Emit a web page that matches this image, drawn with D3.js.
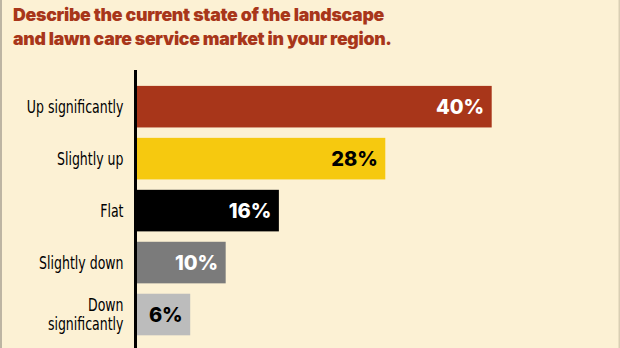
<!DOCTYPE html>
<html>
<head>
<meta charset="utf-8">
<script src="https://cdn.jsdelivr.net/npm/d3@7/dist/d3.min.js"></script>
<style>
  html, body { margin: 0; padding: 0; background: #fcf1d4; }
  svg { display: block; }
</style>
</head>
<body>
<svg id="chart" width="620" height="348"></svg>
<script>
// Survey answers and their shares (percent)
const categories = ["Up significantly", "Slightly up", "Flat", "Slightly down", "Down significantly"];
const values = [40, 28, 16, 10, 6];
const valueLabels = ["40%", "28%", "16%", "10%", "6%"];
const barColors = ["#a8361a", "#f6c90f", "#000000", "#7b7b7b", "#bcbcbc"];
const labelColors = ["#ffffff", "#000000", "#ffffff", "#ffffff", "#000000"];
const titleLines = ["Describe the current state of the landscape", "and lawn care service market in your region."];

const W = 620, H = 348;
const svg = d3.select("#chart");
const heavyFont = "Inter, 'Open Sans', sans-serif";

svg.append("rect").attr("width", W).attr("height", H).attr("fill", "#fcf1d4");
// panel edges
svg.append("rect").attr("x", 0).attr("y", 0).attr("width", 2).attr("height", H).attr("fill", "#bdb5a3");
svg.append("rect").attr("x", 618.5).attr("y", 0).attr("width", 1.5).attr("height", H).attr("fill", "#d9cfb4");

// Title, fitted to its line widths
const title = svg.append("g");
titleLines.forEach((t, i) => {
  const el = title.append("text")
    .attr("x", 13).attr("y", 21 + i * 23.5)
    .attr("fill", "#a8361a")
    .attr("font-family", heavyFont)
    .attr("font-weight", 900)
    .attr("font-size", 19)
    .attr("letter-spacing", -0.3)
    .text(t);
  const target = i === 0 ? 372 : 380;
  const w = el.node().getComputedTextLength();
  el.attr("font-size", 19 * target / w);
});

// Scales
const x = d3.scaleLinear().domain([0, 40]).range([137, 491.7]);
const y = d3.scaleBand().domain(categories).range([75.5, 345.7]).paddingInner(0.2).paddingOuter(0.2);

// Bars
svg.selectAll("rect.bar").data(categories).join("rect")
  .attr("class", "bar")
  .attr("x", x(0))
  .attr("y", d => y(d))
  .attr("width", (d, i) => x(values[i]) - x(0))
  .attr("height", y.bandwidth())
  .attr("fill", (d, i) => barColors[i]);

// Value labels inside bar ends
svg.selectAll("text.val").data(categories).join("text")
  .attr("class", "val")
  .attr("x", (d, i) => x(values[i]) - 7.5)
  .attr("y", d => y(d) + y.bandwidth() / 2)
  .attr("dy", "0.36em")
  .attr("text-anchor", "end")
  .attr("font-family", heavyFont)
  .attr("font-weight", 800)
  .attr("font-size", 20)
  .attr("fill", (d, i) => labelColors[i])
  .text((d, i) => valueLabels[i]);

// Category labels, condensed horizontally; long ones wrap onto two lines
const catFont = "'DejaVu Sans Condensed', 'DejaVu Sans', sans-serif";
const labelRight = 123.5;
const squeeze = 0.82;
const catSize = 17;
const lineGap = 19;
categories.forEach((c, i) => {
  const words = c === "Down significantly" ? ["Down", "significantly"] : [c];
  const cy = y(c) + y.bandwidth() / 2;
  const g = svg.append("g")
    .attr("transform", `translate(${labelRight},0) scale(${squeeze},1)`);
  words.forEach((w, j) => {
    g.append("text")
      .attr("x", 0)
      .attr("y", cy + (j - (words.length - 1) / 2) * lineGap)
      .attr("dy", "0.36em")
      .attr("text-anchor", "end")
      .attr("font-family", catFont)
      .attr("font-size", catSize)
      .attr("fill", "#000")
      .text(w);
  });
});

// Vertical baseline
svg.append("line")
  .attr("x1", x(0) - 1.5).attr("x2", x(0) - 1.5)
  .attr("y1", 70).attr("y2", H)
  .attr("stroke", "#000").attr("stroke-width", 3);
</script>
</body>
</html>
